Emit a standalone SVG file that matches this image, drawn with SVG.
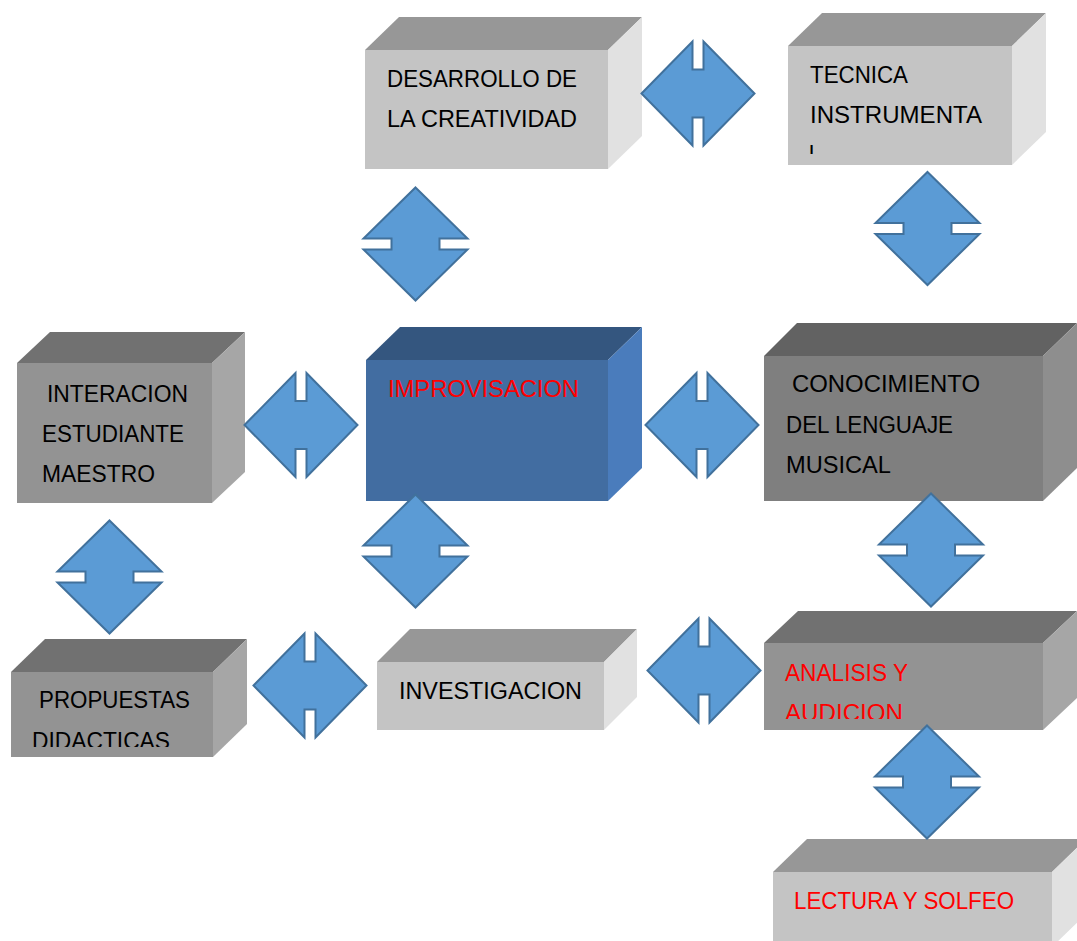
<svg xmlns="http://www.w3.org/2000/svg" width="1077" height="941" viewBox="0 0 1077 941">
<style>
.lf{fill:#c4c4c4}.lt{fill:#979797}.lr{fill:#e1e1e1}
.mf{fill:#939393}.mt{fill:#717171}.mr{fill:#a6a6a6}
.df{fill:#7f7f7f}.dt{fill:#626262}.dr{fill:#8e8e8e}
.bf{fill:#426da1}.bt{fill:#34567f}.br{fill:#4a7cbc}
.tx{font-family:"Liberation Sans",Arial,sans-serif;font-size:23px;fill:#000}
.red{fill:#ff0000}
.arr{fill:#5b9bd5;stroke:#41719c;stroke-width:2}
</style>
<defs>
<path id="ah" d="M-56.5,0 L-5.5,-52 L-5.5,-24 L5.5,-24 L5.5,-52 L56.5,0 L5.5,52 L5.5,24 L-5.5,24 L-5.5,52 Z"/>
<path id="av" d="M0,-56.5 L52,-5.5 L24,-5.5 L24,5.5 L52,5.5 L0,56.5 L-52,5.5 L-24,5.5 L-24,-5.5 L-52,-5.5 Z"/>
<clipPath id="c1"><rect x="780" y="0" width="240" height="154"/></clipPath>
<clipPath id="c2"><rect x="0" y="600" width="230" height="147"/></clipPath>
<clipPath id="c3"><rect x="760" y="600" width="300" height="119"/></clipPath>
</defs>
<rect width="1077" height="941" fill="#ffffff"/>
<g id="nodes">
<g id="desarrollo">
<rect class="lf" x="365" y="50" width="243" height="119"/>
<polygon class="lt" points="365,50 399,17 642,17 608,50"/>
<polygon class="lr" points="608,50 642,17 642,136 608,169"/>
<text class="tx" x="387" y="87" textLength="190" lengthAdjust="spacingAndGlyphs">DESARROLLO DE</text>
<text class="tx" x="387" y="127" textLength="190" lengthAdjust="spacingAndGlyphs">LA CREATIVIDAD</text>
</g>
<g id="tecnica">
<rect class="lf" x="788" y="46" width="224" height="119"/>
<polygon class="lt" points="788,46 822,13 1046,13 1012,46"/>
<polygon class="lr" points="1012,46 1046,13 1046,132 1012,165"/>
<text class="tx" x="810" y="83" textLength="98" lengthAdjust="spacingAndGlyphs">TECNICA</text>
<text class="tx" x="810" y="123" textLength="172" lengthAdjust="spacingAndGlyphs">INSTRUMENTA</text>
<text class="tx" x="809" y="163" clip-path="url(#c1)">l</text>
</g>
<g id="interaccion">
<rect class="mf" x="17" y="363" width="195" height="140"/>
<polygon class="mt" points="17,363 50,332 245,332 212,363"/>
<polygon class="mr" points="212,363 245,332 245,472 212,503"/>
<text class="tx" x="47" y="402" textLength="141" lengthAdjust="spacingAndGlyphs">INTERACION</text>
<text class="tx" x="42" y="442" textLength="142" lengthAdjust="spacingAndGlyphs">ESTUDIANTE</text>
<text class="tx" x="42" y="482" textLength="113" lengthAdjust="spacingAndGlyphs">MAESTRO</text>
</g>
<g id="improvisacion">
<rect class="bf" x="366" y="360" width="242" height="141"/>
<polygon class="bt" points="366,360 400,327 642,327 608,360"/>
<polygon class="br" points="608,360 642,327 642,468 608,501"/>
<text class="tx red" x="388" y="397" textLength="191" lengthAdjust="spacingAndGlyphs">IMPROVISACION</text>
</g>
<g id="conocimiento">
<rect class="df" x="764" y="356" width="279" height="145"/>
<polygon class="dt" points="764,356 797,323 1077,323 1043,356"/>
<polygon class="dr" points="1043,356 1077,323 1077,468 1043,501"/>
<text class="tx" x="792" y="392" textLength="188" lengthAdjust="spacingAndGlyphs">CONOCIMIENTO</text>
<text class="tx" x="786" y="433" textLength="167" lengthAdjust="spacingAndGlyphs">DEL LENGUAJE</text>
<text class="tx" x="786" y="473" textLength="105" lengthAdjust="spacingAndGlyphs">MUSICAL</text>
</g>
<g id="propuestas">
<rect class="mf" x="11" y="672" width="202" height="85"/>
<polygon class="mt" points="11,672 45,639 247,639 213,672"/>
<polygon class="mr" points="213,672 247,639 247,724 213,757"/>
<text class="tx" x="39" y="708" textLength="151" lengthAdjust="spacingAndGlyphs">PROPUESTAS</text>
<text class="tx" x="32" y="749" textLength="138" lengthAdjust="spacingAndGlyphs" clip-path="url(#c2)">DIDACTICAS</text>
</g>
<g id="investigacion">
<rect class="lf" x="377" y="662" width="227" height="68"/>
<polygon class="lt" points="377,662 410,629 637,629 604,662"/>
<polygon class="lr" points="604,662 637,629 637,697 604,730"/>
<text class="tx" x="399" y="699" textLength="183" lengthAdjust="spacingAndGlyphs">INVESTIGACION</text>
</g>
<g id="analisis">
<rect class="mf" x="764" y="643" width="279" height="87"/>
<polygon class="mt" points="764,643 798,611 1077,611 1043,643"/>
<polygon class="mr" points="1043,643 1077,611 1077,698 1043,730"/>
<text class="tx red" x="785" y="681" textLength="123" lengthAdjust="spacingAndGlyphs">ANALISIS Y</text>
<text class="tx red" x="785" y="721" textLength="118" lengthAdjust="spacingAndGlyphs" clip-path="url(#c3)">AUDICION</text>
</g>
<g id="lectura">
<rect class="lf" x="773" y="872" width="279" height="75"/>
<polygon class="lt" points="773,872 807,839 1086,839 1052,872"/>
<polygon class="lr" points="1052,872 1086,839 1086,914 1052,947"/>
<text class="tx red" x="794" y="909" textLength="220" lengthAdjust="spacingAndGlyphs">LECTURA Y SOLFEO</text>
</g>
</g>
<g id="connectors">
<use href="#ah" class="arr" x="698" y="93.5"/>
<use href="#ah" class="arr" x="301" y="425"/>
<use href="#ah" class="arr" x="702" y="425"/>
<use href="#ah" class="arr" x="310" y="685.5"/>
<use href="#ah" class="arr" x="704" y="670.5"/>
<use href="#av" class="arr" x="415.5" y="244"/>
<use href="#av" class="arr" x="927.5" y="228.5"/>
<use href="#av" class="arr" x="931" y="550"/>
<use href="#av" class="arr" x="109.5" y="577"/>
<use href="#av" class="arr" x="415.5" y="551"/>
<use href="#av" class="arr" x="927" y="782"/>
</g>
</svg>
